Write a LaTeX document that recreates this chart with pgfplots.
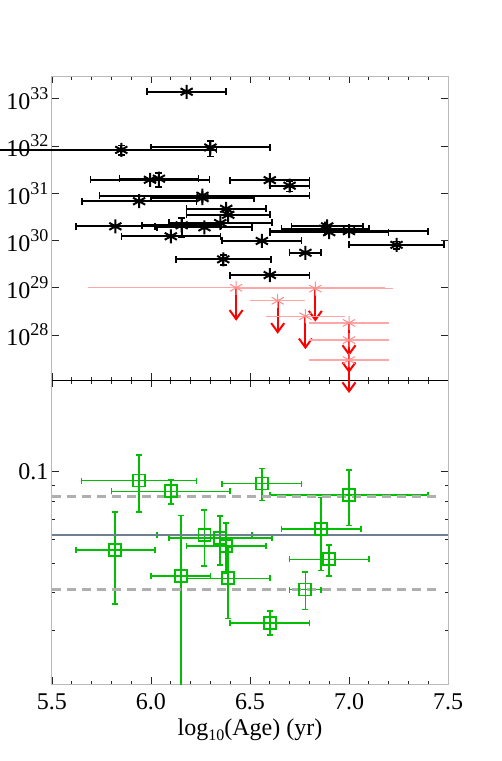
\documentclass[border=0pt]{standalone}
\usepackage{pgfplots}
\pgfplotsset{compat=1.18}
\usepackage{fontspec}
\setmainfont{Liberation Serif}
\usetikzlibrary{arrows.meta}
\definecolor{grn}{RGB}{0,190,0}
\definecolor{slate}{RGB}{112,126,145}
\definecolor{lpink}{RGB}{255,140,140}
\definecolor{dgray}{RGB}{175,175,175}
\newcommand\pten[1]{10\raisebox{0.42em}{\fontsize{18}{18}\selectfont #1}}
\newcommand\bigfont{\fontsize{24}{26}\selectfont}

% black detections: x, y, x-err minus/plus, y-err
\pgfplotstableread{
x      y        exm   exp   ey
6.18   1.41e33  0.20  0.20  0
5.85   8.3e31   0.70  0.48  1.9e31
6.30   9.33e31  0.30  0.30  3.3e31
5.995  1.93e31  0.30  0.30  0
6.04   2.04e31  0.20  0.20  6.7e30
6.60   1.9e31   0.20  0.20  0
6.70   1.45e31  0.10  0.10  3.6e30
6.26   8.9e30   0.52  0.54  0
6.26   7.9e30   0.26  0.26  0
5.94   6.8e30   0.29  0.29  0
6.38   4.7e30   0.20  0.20  0
6.39   3.5e30   0.21  0.21  0
5.82   2.0e30   0.20  0.20  0
6.155  2.1e30   0.20  0.20  9e29
6.27   1.9e30   0.24  0.24  0
6.35   2.35e30  0.26  0.26  0
6.10   1.23e30  0.25  0.25  0
6.365  4.0e29   0.24  0.24  1.0e29
6.56   9.8e29   0.20  0.20  0
6.60   1.86e29  0.20  0.20  0
6.78   5.5e29   0.08  0.08  0
7.24   8.1e29   0.24  0.24  1.5e29
6.88   1.78e30  0.22  0.22  0
6.89   2.0e30   0.18  0.18  0
6.90   1.5e30   0.30  0.30  0
7.00   1.58e30  0.40  0.40  0
}\detections

% upper limits: x, y, x-err, arrow length (down)
\pgfplotstableread{
x     y        ex    dn
6.43  1.0e29   0.75  8.0e28
6.83  9.6e28   0.39  7.68e28
6.64  5.3e28   0.14  4.24e28
6.78  2.5e28   0.20  2.0e28
7.00  1.8e28   0.20  1.44e28
7.00  7.8e27   0.20  6.24e27
7.00  2.95e27  0.20  2.36e27
}\upperlims

\pgfplotstableread{
x     y       ex    ey
5.94  0.0936  0.29  0.0200
6.10  0.0862  0.30  0.0077
5.82  0.0553  0.20  0.0185
6.15  0.0455  0.15  0.0263
6.27  0.0619  0.24  0.0130
6.35  0.0604  0.26  0.0110
6.38  0.0571  0.20  0.0107
6.39  0.0446  0.21  0.0117
6.60  0.0319  0.20  0.0029
6.56  0.0915  0.20  0.0110
7.00  0.0841  0.40  0.0175
6.86  0.0648  0.20  0.0174
6.90  0.0515  0.20  0.0060
6.78  0.0410  0.08  0.0058
}\ratios

\pgfplotsset{
  /pgfplots/agepanel/.style={
    scale only axis, width=396pt, height=304pt,
    xmin=5.5, xmax=7.5,
    xtick={5.5,6.0,6.5,7.0,7.5}, minor x tick num=4,
    axis line style={gray!55, line width=1pt},
    tick style={black!85, line width=0.7pt},
    major tick length=7pt, minor tick length=3.5pt,
    tick label style={font=\bigfont},
    label style={font=\bigfont},
  },
}

\begin{document}
\begin{tikzpicture}
% lower panel
\begin{axis}[agepanel, ymode=log, at={(0,0)}, anchor=south west,
  ymin=0.02, ymax=0.2,
  ytick={0.1}, yticklabels={0.1},
  minor ytick={0.02,0.03,0.04,0.05,0.06,0.07,0.08,0.09,0.2},
  xticklabels={5.5,6.0,6.5,7.0,7.5},
  xticklabel style={yshift=-6pt},
  xlabel={log\raisebox{-0.22em}{\fontsize{16}{16}\selectfont 10}(Age) (yr)},
  xlabel style={yshift=-2pt},
]
  \addplot[only marks, color=grn, mark=square, mark size=6pt, mark options={draw=grn, line width=1.9pt},
    error bars/.cd, x dir=both, x explicit, y dir=both, y explicit,
    error bar style={draw=grn, line width=1.8pt},
    error mark options={draw=grn, rotate=90, mark size=3pt, line width=1.6pt}]
    table[x=x, y=y, x error=ex, y error=ey] {\ratios};
  \addplot[slate, line width=2.8pt] coordinates {(5.5,0.0620) (7.5,0.0620)};
  \addplot[dgray, line width=2.8pt, dash pattern=on 9pt off 6pt] coordinates {(5.5,0.0830) (7.45,0.0830)};
  \addplot[dgray, line width=2.8pt, dash pattern=on 9pt off 6pt] coordinates {(5.5,0.0411) (7.45,0.0411)};
\end{axis}
% upper panel
\begin{axis}[agepanel, ymode=log, at={(0,304pt)}, anchor=south west,
  ymin=1.1e27, ymax=3e33, clip=false,
  ytick={1e28,1e29,1e30,1e31,1e32,1e33},
  yticklabels={\pten{28},\pten{29},\pten{30},\pten{31},\pten{32},\pten{33}},
  yminorticks=false, xticklabels={},
]
  \draw[black, line width=1.2pt] (rel axis cs:0,0) -- (rel axis cs:1,0);
  \addplot[only marks, color=black, mark=asterisk, mark size=7pt, mark options={draw=black, line width=2pt},
    error bars/.cd, x dir=both, x explicit, y dir=both, y explicit,
    error bar style={draw=black, line width=2pt},
    error mark options={draw=black, rotate=90, mark size=3.5pt, line width=1.6pt}]
    table[x=x, y=y, x error minus=exm, x error plus=exp, y error=ey] {\detections};
  \addplot[draw=none, mark=none,
    error bars/.cd, y dir=minus, y explicit,
    error bar style={draw=red, line width=2pt, -{Straight Barb[length=9pt, width=13pt]}},
    error mark=none]
    table[x=x, y=y, y error minus=dn] {\upperlims};
  \addplot[only marks, color=lpink, mark=asterisk, mark size=7pt, mark options={draw=lpink, line width=1pt},
    error bars/.cd, x dir=both, x explicit,
    error bar style={draw=red!35, line width=1.2pt}, error mark=none]
    table[x=x, y=y, x error=ex] {\upperlims};
\end{axis}
\pgfresetboundingbox
\useasboundingbox (-52pt,-76.7pt) rectangle (450pt,684.3pt);
\end{tikzpicture}
\end{document}
